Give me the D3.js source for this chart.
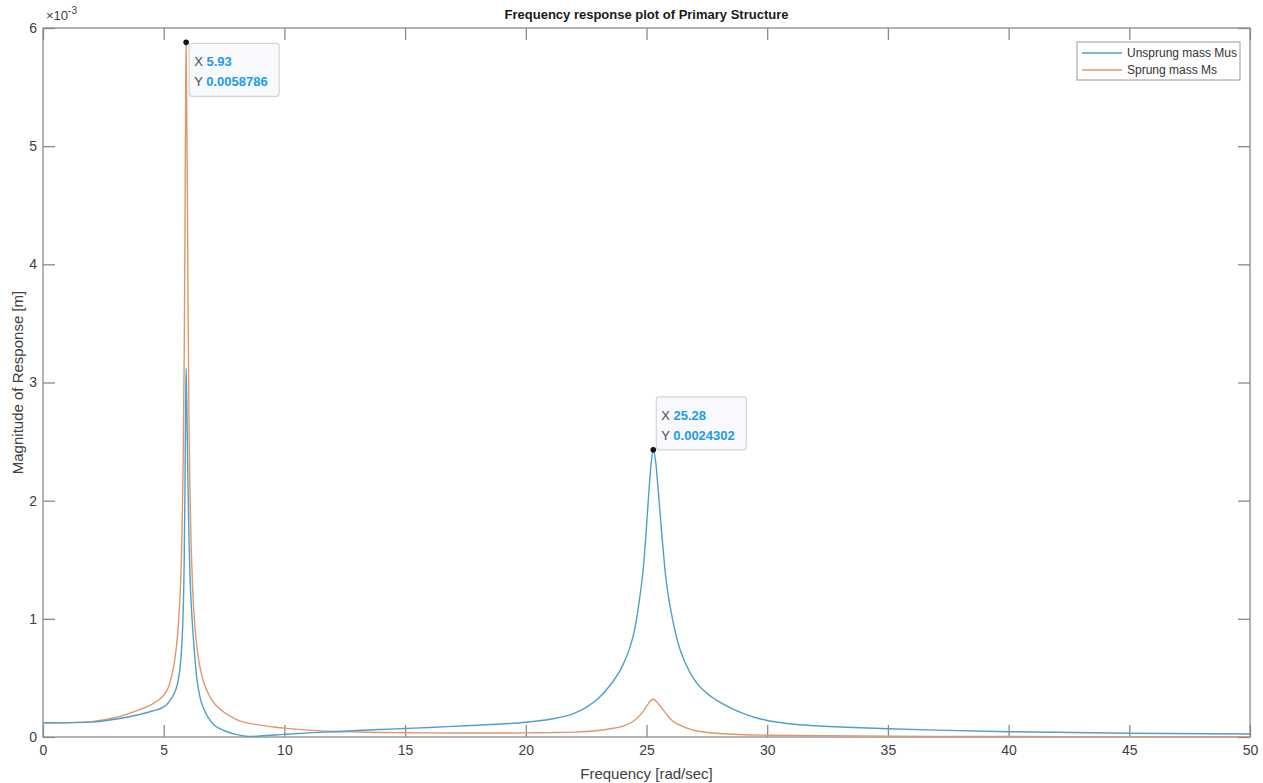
<!DOCTYPE html>
<html><head><meta charset="utf-8">
<script src="https://cdn.jsdelivr.net/npm/d3@7"></script>
<style>
html,body{margin:0;padding:0;background:#fff;}
svg{display:block;font-family:"Liberation Sans",Arial,Helvetica,sans-serif;}
</style></head>
<body>
<svg id="chart" width="1263" height="783"></svg>
<script>
// ---- data (response magnitude in metres) ----
const usFreq = [0,1,2,3,4,4.5,5,5.15,5.3,5.5,5.6,5.7,5.75,5.8,5.85,5.88,5.91,5.93,5.95,5.98,6.0,6.05,6.1,6.16,6.25,6.37,6.5,6.7,7.0,7.5,8,8.6,9,10,11,12,13,14,15,16,17,18,19,20,21,22,22.5,23,23.5,24,24.3,24.5,24.7,24.9,25.0,25.1,25.2,25.28,25.38,25.5,25.6,25.8,26.0,26.3,26.6,27,27.5,28,28.5,29,29.5,30,30.5,31,32,33,35,37,40,45,50];
const usMag  = [0.12,0.121,0.126,0.15,0.19,0.218,0.255,0.28,0.32,0.4,0.48,0.63,0.78,1.02,1.5,2.1,2.8,3.12,2.9,2.5,2.2,1.65,1.3,1.05,0.78,0.5,0.34,0.22,0.12,0.055,0.022,0.004,0.008,0.022,0.035,0.045,0.055,0.064,0.072,0.08,0.09,0.1,0.11,0.125,0.15,0.2,0.25,0.325,0.44,0.6,0.75,0.9,1.15,1.5,1.78,2.08,2.33,2.4302,2.33,2.05,1.8,1.35,1.08,0.8,0.63,0.48,0.37,0.3,0.245,0.2,0.165,0.14,0.124,0.11,0.095,0.085,0.07,0.058,0.045,0.032,0.025].map(v => v * 1e-3);

const spFreq = [0,1,2,3,4,4.5,4.8,5,5.2,5.4,5.5,5.6,5.7,5.75,5.8,5.85,5.88,5.91,5.93,5.95,5.98,6.0,6.05,6.1,6.2,6.3,6.4,6.6,6.8,7.0,7.5,8,9,10,11,12,13,14,15,17,19,20,21,22,23,23.5,24,24.5,24.8,25,25.28,25.5,25.8,26,26.5,27,28,30,35,40,45,50];
const spMag  = [0.12,0.122,0.13,0.165,0.232,0.275,0.315,0.355,0.424,0.582,0.716,0.928,1.31,1.65,2.21,3.23,4.26,5.47,5.8786,5.4,4.6,3.9,2.6,1.95,1.25,0.92,0.72,0.5,0.39,0.31,0.21,0.15,0.1,0.075,0.058,0.047,0.042,0.038,0.036,0.034,0.034,0.035,0.037,0.041,0.055,0.07,0.09,0.14,0.2,0.26,0.32,0.28,0.2,0.15,0.09,0.055,0.03,0.015,0.007,0.004,0.003,0.002].map(v => v * 1e-3);

const xTicks = [0,5,10,15,20,25,30,35,40,45,50];
const yTicks = [0,1,2,3,4,5,6];          // in units of 1e-3
const seriesNames = ["Unsprung mass Mus","Sprung mass Ms"];
const seriesColors = ["#4fa0c9","#e3966c"];
const tips = [
  {x:5.93, y:0.0058786, xl:"5.93", yl:"0.0058786", side:"below"},
  {x:25.28, y:0.0024302, xl:"25.28", yl:"0.0024302", side:"above"}
];

// ---- layout ----
const L = 43, R = 1250, T = 28, B = 737;
const svg = d3.select("#chart");
const x = d3.scaleLinear().domain([0,50]).range([L,R]);
const y = d3.scaleLinear().domain([0,6e-3]).range([B,T]);
const axisCol = "#8a8a8a", textCol = "#404040";
const tickLen = 12;

// axes box
svg.append("rect").attr("x",L).attr("y",T).attr("width",R-L).attr("height",B-T)
  .attr("fill","none").attr("stroke",axisCol).attr("stroke-width",1.3);

// x ticks bottom/top (inward)
const xg = svg.append("g").attr("transform",`translate(0,${B})`)
  .call(d3.axisBottom(x).tickValues(xTicks).tickSizeInner(-tickLen).tickSizeOuter(0).tickPadding(8));
xg.select(".domain").remove();
xg.selectAll("line").attr("stroke",axisCol).attr("stroke-width",1.3);
xg.selectAll("text").attr("fill",textCol).style("font-size","14px");
svg.append("g").attr("transform",`translate(0,${T})`)
  .call(d3.axisTop(x).tickValues(xTicks).tickSizeInner(-tickLen).tickSizeOuter(0).tickFormat(""))
  .call(g=>{g.select(".domain").remove(); g.selectAll("line").attr("stroke",axisCol).attr("stroke-width",1.3);});

// y ticks left/right
const yg = svg.append("g").attr("transform",`translate(${L},0)`)
  .call(d3.axisLeft(y).tickValues(yTicks.map(v=>v*1e-3)).tickSizeInner(-tickLen).tickSizeOuter(0)
    .tickPadding(6).tickFormat((d,i)=>String(yTicks[i])));
yg.select(".domain").remove();
yg.selectAll("line").attr("stroke",axisCol).attr("stroke-width",1.3);
yg.selectAll("text").attr("fill",textCol).style("font-size","14px");
svg.append("g").attr("transform",`translate(${R},0)`)
  .call(d3.axisRight(y).tickValues(yTicks.map(v=>v*1e-3)).tickSizeInner(-tickLen).tickSizeOuter(0).tickFormat(""))
  .call(g=>{g.select(".domain").remove(); g.selectAll("line").attr("stroke",axisCol).attr("stroke-width",1.3);});

// exponent
const ex = svg.append("text").attr("x",L+3).attr("y",T-8).attr("fill",textCol).style("font-size","13px");
ex.append("tspan").text("\u00d710");
ex.append("tspan").attr("dy",-6).style("font-size","10px").text("-3");

// lines
const line = d3.line().x(d=>x(d[0])).y(d=>y(d[1])).curve(d3.curveMonotoneX);
svg.append("clipPath").attr("id","pc").append("rect").attr("x",L).attr("y",T-2).attr("width",R-L).attr("height",B-T+2);
const plot = svg.append("g").attr("clip-path","url(#pc)");
plot.append("path").datum(spFreq.map((f,i)=>[f,spMag[i]]))
  .attr("d",line).attr("fill","none").attr("stroke",seriesColors[1]).attr("stroke-width",1.4);
plot.append("path").datum(usFreq.map((f,i)=>[f,usMag[i]]))
  .attr("d",line).attr("fill","none").attr("stroke",seriesColors[0]).attr("stroke-width",1.4);

// title & labels
svg.append("text").attr("x",(L+R)/2).attr("y",19).attr("text-anchor","middle")
  .attr("fill","#1a1a1a").style("font-size","13px").style("font-weight","bold")
  .text("Frequency response plot of Primary Structure");
svg.append("text").attr("x",(L+R)/2).attr("y",779).attr("text-anchor","middle")
  .attr("fill",textCol).style("font-size","15px").text("Frequency [rad/sec]");
svg.append("text").attr("transform",`translate(23,${(T+B)/2}) rotate(-90)`).attr("text-anchor","middle")
  .attr("fill",textCol).style("font-size","15px").text("Magnitude of Response [m]");

// legend
const lg = svg.append("g").attr("transform","translate(1077,42)");
lg.append("rect").attr("width",163).attr("height",38).attr("fill","#fff").attr("stroke","#9a9a9a").attr("stroke-width",1);
seriesNames.forEach((n,i)=>{
  const yy = 11 + i*17;
  lg.append("line").attr("x1",5).attr("x2",45).attr("y1",yy).attr("y2",yy).attr("stroke",seriesColors[i]).attr("stroke-width",1.3);
  lg.append("text").attr("x",50).attr("y",yy+4).attr("fill","#333").style("font-size","12px").text(n);
});

// data tips
tips.forEach(t=>{
  const px = x(t.x), py = y(t.y);
  const w = 90, h = 53;
  const bx = px + 3, by = t.side==="below" ? py + 1 : py - h;
  const g = svg.append("g");
  g.append("rect").attr("x",bx).attr("y",by).attr("width",w).attr("height",h).attr("rx",3)
    .attr("fill","#f8f9fd").attr("stroke","#d2d4d8").attr("stroke-width",1.2);
  [["X ",t.xl],["Y ",t.yl]].forEach((p,i)=>{
    const tx = g.append("text").attr("x",bx+5).attr("y",by+23+i*20).style("font-size","13px");
    tx.append("tspan").attr("fill","#4a4a4a").text(p[0]);
    tx.append("tspan").attr("fill","#1e9be9").style("font-weight","bold").text(p[1]);
  });
  svg.append("circle").attr("cx",px).attr("cy",py).attr("r",2.8).attr("fill","#111");
});
</script>
</body></html>
